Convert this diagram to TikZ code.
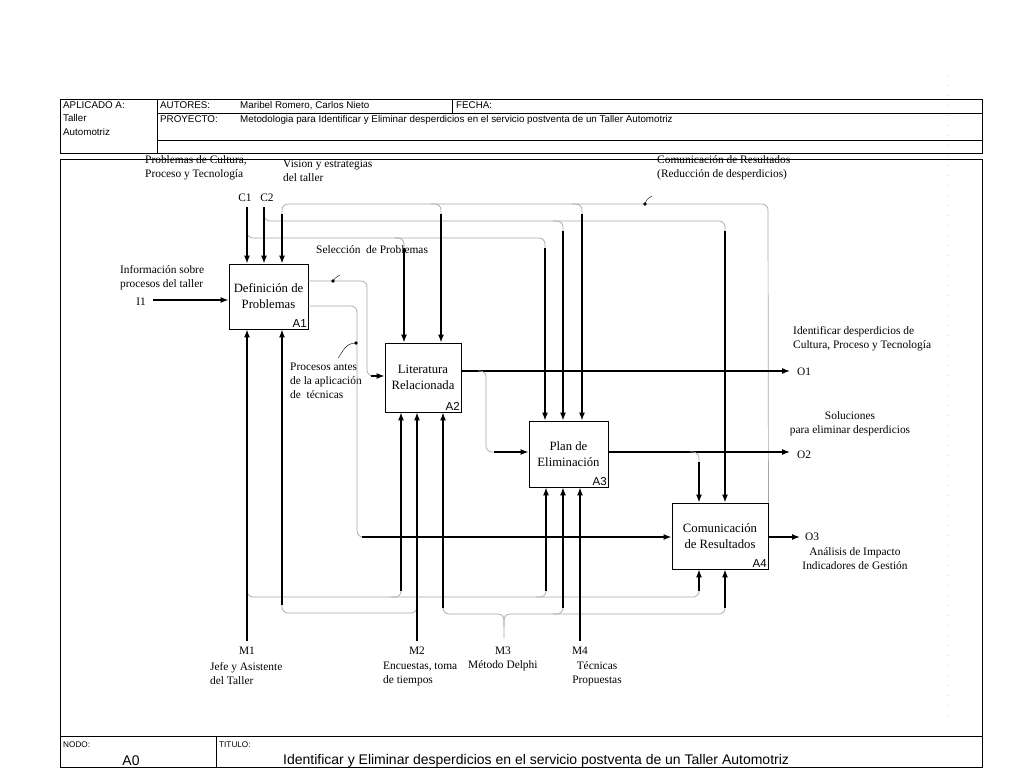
\documentclass[tikz,border=0pt]{standalone}
\usepackage{fontspec}
\setmainfont{Liberation Serif}
\setsansfont{Liberation Sans}
\usetikzlibrary{arrows.meta,calc}
\tikzset{
  act/.style = {draw=black, line width=0.9pt, align=center, inner sep=0pt,
    font=\fontsize{12.7}{16}\selectfont},% actividad
  actno/.style = {anchor=south east, inner sep=1.5pt,
    font=\sffamily\fontsize{11.5}{11.5}\selectfont},% numero de actividad
  lbl/.style = {align=left, inner sep=0pt, font=\fontsize{11.4}{14}\selectfont},
  hdr/.style = {anchor=west, inner sep=0pt, text height=7pt, text depth=2pt,
    font=\sffamily\fontsize{9.8}{11}\selectfont},
  frame/.style = {draw=black, line width=0.9pt},
  flow/.style = {line width=1.3pt, -{Latex[length=8pt,width=6pt]}},% flecha negra
  tunnel/.style = {draw=gray!70, line width=0.7pt, rounded corners=6pt}% linea gris
}

\begin{document}
\begin{tikzpicture}[x=1pt, y=-1pt]
\useasboundingbox (0,0) rectangle (1024,768);

% cabecera
\draw[frame] (60,99) rectangle (982,153);
\draw[frame] (157,99) -- (157,153);
\draw[frame] (157,113) -- (982,113);
\draw[frame] (157,140) -- (982,140);
\draw[frame] (452,99) -- (452,113);
\node[hdr] (apl) at (63,106) {APLICADO A:};
\node[hdr] (tal) at (63,119) {Taller};
\node[hdr] (aut) at (63,133) {Automotriz};
\node[hdr] (autores) at (160,106) {AUTORES:};
\node[hdr] (nombres) at (240,106) {Maribel Romero, Carlos Nieto};
\node[hdr] (fecha) at (456,106) {FECHA:};
\node[hdr] (proy) at (160,120) {PROYECTO:};
\node[hdr] (proyt) at (240,120) {Metodologia para Identificar y Eliminar desperdicios en el servicio postventa de un Taller Automotriz};

% marco y pie
\draw[frame] (60,159) rectangle (982,767);
\draw[frame] (60,736) -- (982,736);
\draw[frame] (216,736) -- (216,767);
\draw[gray!35, line width=0.6pt, dash pattern=on 1pt off 9pt] (948,75) -- (948,725);
\node[hdr, font=\sffamily\fontsize{8.2}{9}\selectfont] (nodo) at (63,745) {NODO:};
\node[inner sep=0pt, font=\sffamily\fontsize{14}{16}\selectfont] (a0) at (131,761) {A0};
\node[hdr, font=\sffamily\fontsize{8.2}{9}\selectfont] (tit) at (219,745) {TITULO:};
\node[hdr, text height=10pt, text depth=3pt, font=\sffamily\fontsize{14}{16}\selectfont] (titulo) at (283,761)
  {Identificar y Eliminar desperdicios en el servicio postventa de un Taller Automotriz};

% actividades
\node[act, minimum width=79pt, minimum height=65pt] (A1) at (268.5,296.5) {Definición de\\Problemas};
\node[act, minimum width=76pt, minimum height=69pt] (A2) at (423,377.5) {Literatura\\Relacionada};
\node[act, minimum width=79pt, minimum height=66pt] (A3) at (568.5,454) {Plan de\\Eliminación};
\node[act, minimum width=96pt, minimum height=66pt] (A4) at (720,536) {Comunicación\\de Resultados};
\node[actno] (A1n) at (A1.south east) {A1};
\node[actno] (A2n) at (A2.south east) {A2};
\node[actno] (A3n) at (A3.south east) {A3};
\node[actno] (A4n) at (A4.south east) {A4};

% textos
\node[lbl, anchor=west] (pcult) at (145,168) {Problemas de Cultura,\\Proceso y Tecnología};
\node[lbl, anchor=west] (vision) at (283,170.5) {Vision y estrategias\\del taller};
\node[lbl, anchor=west] (comres) at (657,168) {Comunicación de Resultados\\(Reducción de desperdicios)};
\node[lbl] (c1t) at (245,198) {C1};
\node[lbl] (c2t) at (267,198) {C2};
\node[lbl, anchor=west] (selec) at (316,250) {Selección\ \ de Problemas};
\node[lbl, anchor=west] (info) at (120,277.5) {Información sobre\\procesos del taller};
\node[lbl] (i1t) at (141,302) {I1};
\node[lbl, anchor=west] (proc) at (290,381) {Procesos antes\\de la aplicación\\de\ \ técnicas};
\node[lbl, anchor=west] (ident) at (793,339) {Identificar desperdicios de\\Cultura, Proceso y Tecnología};
\node[lbl, anchor=west] (o1t) at (797,372) {O1};
\node[lbl, align=center] (soluc) at (850,424) {Soluciones\\para eliminar desperdicios};
\node[lbl, anchor=west] (o2t) at (797,455) {O2};
\node[lbl, anchor=west] (o3t) at (805,537) {O3};
\node[lbl, align=center] (anal) at (855,558.5) {Análisis de Impacto\\Indicadores de Gestión};
\node[lbl] (m1t) at (247,651) {M1};
\node[lbl] (m2t) at (417,651) {M2};
\node[lbl] (m3t) at (503,651) {M3};
\node[lbl] (m4t) at (580,651) {M4};
\node[lbl, anchor=west] (jefe) at (210,673.5) {Jefe y Asistente\\del Taller};
\node[lbl, anchor=west] (encu) at (383,673.5) {Encuestas, toma\\de tiempos};
\node[lbl, anchor=west] (delphi) at (468,666) {Método Delphi};
\node[lbl, align=center] (tecn) at (597,673.5) {Técnicas\\Propuestas};

% puntos de partida
\coordinate (c1) at (247,207);
\coordinate (c2) at (264,207);
\coordinate (i1) at (153,300);
\coordinate (m1) at (247,641);
\coordinate (m2) at (417,641);
\coordinate (m4) at (580,641);

% controles
\draw[tunnel] (247,226) -- (247,238) -- (545,238) -- (545,252);
\draw[tunnel] (394,238) -- (404,238) -- (404,252);
\draw[tunnel] (264,209) -- (264,221) -- (725,221) -- (725,235);
\draw[tunnel] (553,221) -- (563,221) -- (563,235);
\draw[tunnel] (A4.north east) -- (768,204) -- (282,204) -- (282,218);
\draw[tunnel] (431,204) -- (441,204) -- (441,218);
\draw[tunnel] (572,204) -- (582,204) -- (582,218);
\draw[flow] (c1) -- (c1 |- A1.north);
\draw[flow] (c2) -- (c2 |- A1.north);
\draw[flow] (282,214) -- (282,214 |- A1.north);
\draw[flow] (404,248) -- (404,248 |- A2.north);
\draw[flow] (441,214) -- (441,214 |- A2.north);
\draw[flow] (545,248) -- (545,248 |- A3.north);
\draw[flow] (563,231) -- (563,231 |- A3.north);
\draw[flow] (582,214) -- (582,214 |- A3.north);
\draw[flow] (725,231) -- (725,231 |- A4.north);
\fill (645,204) circle (1.8pt);
\draw[thin] (645,204) .. controls (647,199) .. (652,196);

% entradas y salidas
\draw[flow] (i1) -- (i1 -| A1.west);
\draw[tunnel] (A1.east |- 0,281) -- (367,281) -- (367,376) -- (375,376);
\draw[flow] (371,376) -- (371,376 -| A2.west);
\fill (333,281) circle (1.8pt);
\draw[thin] (333,281) .. controls (335,278) .. (340,275);
\draw[tunnel] (A1.east |- 0,306) -- (357,306) -- (357,537) -- (366,537);
\draw[flow] (362,537) -- (362,537 -| A4.west);
\fill (356,343) circle (1.8pt);
\draw[thin] (356,343) .. controls (345,343) and (343,352) .. (338,358);
\draw[flow] (A2.east |- 0,371) -- (790,371);
\draw[tunnel] (478,371) -- (486,371) -- (486,452) -- (498,452);
\draw[flow] (494,452) -- (494,452 -| A3.west);
\draw[flow] (A3.east |- 0,452) -- (790,452);
\draw[tunnel] (690,452) -- (699,452) -- (699,466);
\draw[flow] (699,462) -- (699,462 |- A4.north);
\draw[flow] (A4.east |- 0,537) -- (800,537);

% mecanismos
\draw[tunnel] (247,585) -- (247,597) -- (699,597) -- (699,585);
\draw[tunnel] (391,597) -- (401,597) -- (401,585);
\draw[tunnel] (536,597) -- (546,597) -- (546,585);
\draw[tunnel] (282,601) -- (282,613) -- (417,613) -- (417,601);
\draw[tunnel] (443,602) -- (443,614) -- (504,614) -- (504,638);
\draw[tunnel] (504,626) -- (504,614) -- (725,614) -- (725,602);
\draw[tunnel] (553,614) -- (563,614) -- (563,602);
\draw[flow] (m1) -- (m1 |- A1.south);
\draw[flow] (282,605) -- (282,605 |- A1.south);
\draw[flow] (401,591) -- (401,591 |- A2.south);
\draw[flow] (m2) -- (m2 |- A2.south);
\draw[flow] (443,608) -- (443,608 |- A2.south);
\draw[flow] (546,591) -- (546,591 |- A3.south);
\draw[flow] (563,608) -- (563,608 |- A3.south);
\draw[flow] (m4) -- (m4 |- A3.south);
\draw[flow] (699,591) -- (699,591 |- A4.south);
\draw[flow] (725,608) -- (725,608 |- A4.south);
\end{tikzpicture}
\end{document}
